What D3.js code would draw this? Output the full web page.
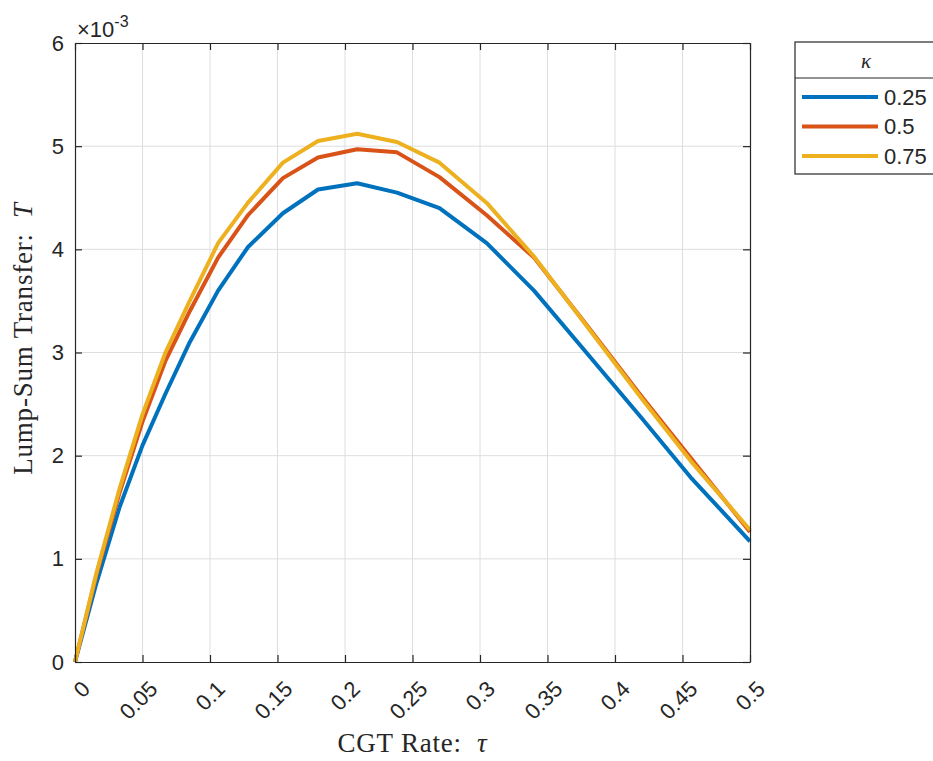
<!DOCTYPE html>
<html>
<head>
<meta charset="utf-8">
<script src="https://cdn.jsdelivr.net/npm/d3@7"></script>
<style>
  body { margin: 0; background: #fff; }
  svg text { fill: #262626; }
</style>
</head>
<body>
<div id="chart"></div>
<script>
// CGT rate tau (x) and lump-sum transfer T, in units of 1e-3 (y)
const tau = [0, 0.016, 0.033, 0.05, 0.067, 0.085, 0.106, 0.128, 0.154, 0.18,
             0.209, 0.2385, 0.27, 0.305, 0.34, 0.38, 0.42, 0.456, 0.5];

const kappa025 = [0, 0.77, 1.5, 2.1, 2.6, 3.1, 3.6, 4.02, 4.35, 4.58,
                  4.64, 4.55, 4.40, 4.06, 3.6, 2.98, 2.36, 1.79, 1.17];
const kappa050 = [0, 0.85, 1.64, 2.33, 2.92, 3.4, 3.92, 4.33, 4.69, 4.89,
                  4.97, 4.94, 4.70, 4.33, 3.92, 3.25, 2.57, 1.98, 1.26];
const kappa075 = [0, 0.87, 1.68, 2.4, 3.0, 3.5, 4.06, 4.45, 4.84, 5.05,
                  5.12, 5.04, 4.84, 4.45, 3.93, 3.24, 2.55, 1.95, 1.28];

const kappaLabels = ["0.25", "0.5", "0.75"];
const colors = ["#0072BD", "#D95319", "#EDB120"];

const xTicks = [0, 0.05, 0.1, 0.15, 0.2, 0.25, 0.3, 0.35, 0.4, 0.45, 0.5];
const yTicks = [0, 1, 2, 3, 4, 5, 6];

const series = [kappa025, kappa050, kappa075];

// dimensions
const margin = {top: 43, left: 75},
    width = 675,
    height = 619;

const sans = "'Liberation Sans', Arial, sans-serif";
const serif = "'Liberation Serif', 'Times New Roman', serif";

const svg = d3.select("#chart")
  .append("svg")
    .attr("width", 933)
    .attr("height", 761);

const g = svg.append("g")
    .attr("transform", `translate(${margin.left}, ${margin.top})`);

const x = d3.scaleLinear().domain([0, 0.5]).range([0, width]);
const y = d3.scaleLinear().domain([0, 6]).range([height, 0]);

// grid
g.append("g").selectAll("line")
  .data(xTicks.slice(1, -1))
  .join("line")
    .attr("x1", d => x(d)).attr("x2", d => x(d))
    .attr("y1", 0).attr("y2", height)
    .attr("stroke", "#dedede").attr("stroke-width", 1);
g.append("g").selectAll("line")
  .data(yTicks.slice(1, -1))
  .join("line")
    .attr("y1", d => y(d)).attr("y2", d => y(d))
    .attr("x1", 0).attr("x2", width)
    .attr("stroke", "#dedede").attr("stroke-width", 1);

// lines
const line = d3.line()
  .x((d, i) => x(tau[i]))
  .y(d => y(d));

g.append("g").selectAll("path")
  .data(series)
  .join("path")
    .attr("d", d => line(d))
    .attr("fill", "none")
    .attr("stroke", (d, i) => colors[i])
    .attr("stroke-width", 4)
    .attr("stroke-linejoin", "round");

// axes (ticks inside, box on)
function styleAxis(sel) {
  sel.select(".domain").attr("stroke", "#262626").attr("stroke-width", 1.2);
  sel.selectAll(".tick line").attr("stroke", "#262626").attr("stroke-width", 1.2);
}

g.append("g")
    .attr("transform", `translate(0, ${height})`)
  .call(d3.axisBottom(x).tickValues(xTicks).tickSize(-7).tickSizeOuter(0).tickFormat(""))
  .call(styleAxis);

g.append("g")
  .call(d3.axisTop(x).tickValues(xTicks).tickSize(-7).tickSizeOuter(0).tickFormat(""))
  .call(styleAxis);

const yAxis = g.append("g")
    .call(d3.axisLeft(y).tickValues(yTicks).tickSize(-7).tickSizeOuter(0)
      .tickPadding(11).tickFormat(d3.format("d")));
styleAxis(yAxis);
yAxis.selectAll(".tick text")
    .style("font-family", sans)
    .style("font-size", "22px")
    .style("fill", "#262626");

g.append("g")
    .attr("transform", `translate(${width}, 0)`)
  .call(d3.axisRight(y).tickValues(yTicks).tickSize(-7).tickSizeOuter(0).tickFormat(""))
  .call(styleAxis);

// rotated x tick labels
g.append("g").selectAll("text")
  .data(xTicks)
  .join("text")
    .attr("transform", d => `translate(${x(d) + 11}, ${height + 23}) rotate(-45)`)
    .attr("text-anchor", "end")
    .attr("dy", "0.35em")
    .style("font-family", sans)
    .style("font-size", "22px")
    .text(d => d);

// exponent label
const expo = g.append("text")
    .attr("x", 2).attr("y", -6)
    .style("font-family", sans)
    .style("font-size", "22px");
expo.append("tspan").text("\u00d710");
expo.append("tspan").attr("dy", -10).style("font-size", "16px").text("-3");

// axis labels
svg.append("text")
    .attr("x", margin.left + width / 2)
    .attr("y", 752)
    .attr("text-anchor", "middle")
    .style("font-family", serif)
    .style("font-size", "27px")
    .style("letter-spacing", "0.8px")
    .html("CGT Rate:&#160;&#160;<tspan font-style='italic'>\u03c4</tspan>");

svg.append("text")
    .attr("transform", `translate(32, ${margin.top + height / 2 - 14}) rotate(-90)`)
    .attr("text-anchor", "middle")
    .style("font-family", serif)
    .style("font-size", "27px")
    .style("letter-spacing", "0.8px")
    .html("Lump-Sum Transfer:&#160;&#160;<tspan font-style='italic'>T</tspan>");

// legend
const lg = svg.append("g").attr("transform", "translate(795, 42)");
lg.append("rect")
    .attr("width", 142).attr("height", 132)
    .attr("fill", "#fff").attr("stroke", "#262626").attr("stroke-width", 1.2);
lg.append("line")
    .attr("x1", 0).attr("x2", 142).attr("y1", 36).attr("y2", 36)
    .attr("stroke", "#262626").attr("stroke-width", 1.2);
lg.append("text")
    .attr("x", 71).attr("y", 26)
    .attr("text-anchor", "middle")
    .style("font-family", serif)
    .style("font-style", "italic")
    .style("font-size", "21px")
    .text("\u03ba");

const items = lg.selectAll(".item")
  .data(kappaLabels)
  .join("g")
    .attr("class", "item")
    .attr("transform", (d, i) => `translate(0, ${55 + i * 29.5})`);
items.append("line")
    .attr("x1", 7).attr("x2", 83)
    .attr("stroke", (d, i) => colors[i])
    .attr("stroke-width", 4);
items.append("text")
    .attr("x", 89).attr("dy", "0.36em")
    .style("font-family", sans)
    .style("font-size", "22px")
    .text(d => d);
</script>
</body>
</html>
